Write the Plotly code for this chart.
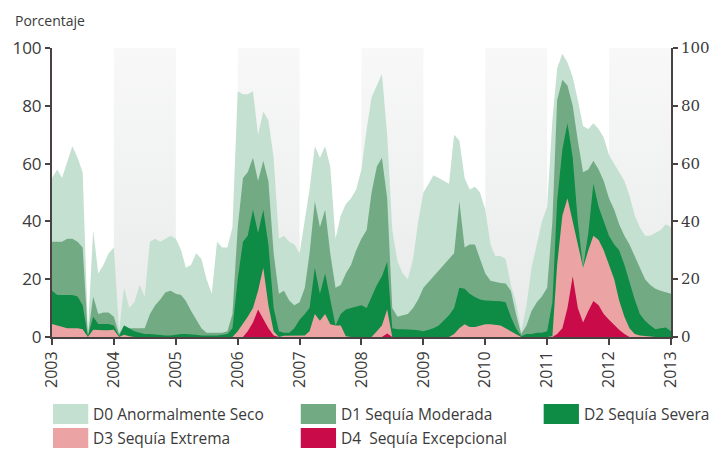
import pandas as pd
import plotly.graph_objects as go

# ---------------- data (monthly, Jan 2003 .. Jan 2013) ----------------
dates = pd.date_range("2003-01-01", "2013-01-01", freq="MS")

d0 = [55, 58, 55, 61, 66, 62, 57, 2, 37, 22, 25, 29,
      31, 2, 17, 10, 12, 18, 14, 33, 34, 33, 34, 35,
      34, 30, 24, 25, 29, 27, 20, 15, 33, 31, 31, 38,
      85, 84, 84, 85, 70, 78, 75, 62, 34, 35, 33, 32,
      29, 40, 51, 66, 62, 66, 59, 34, 42, 46, 48, 51,
      58, 72, 83, 87, 91, 70, 37, 26, 22, 20, 27, 40,
      50, 53, 56, 55, 54, 53, 70, 68, 55, 51, 52, 50,
      44, 32, 28, 28, 27, 18, 12, 2, 11, 24, 32, 40,
      45, 75, 93, 98, 95, 90, 82, 73, 72, 74, 72, 69,
      63, 60, 57, 54, 49, 42, 38, 35, 35, 36, 37, 39,
      38]

d1 = [33, 33, 33, 34, 34, 33, 31, 0.5, 14, 8, 8.5, 8.5,
      7, 1, 4, 3, 3, 3, 3, 8, 11, 13, 15.5, 16,
      15, 14.5, 12.5, 9, 6, 3, 1.5, 1.5, 1.5, 1.5, 2, 8,
      38, 55, 57, 62, 54, 61, 54, 29, 15, 16, 12.6, 11,
      12, 17, 29, 47, 38, 44, 29, 17, 18, 22, 25, 30,
      34, 37, 50, 59, 62, 48, 10, 7, 7.5, 8, 10, 13,
      17, 19, 21, 23, 25, 27, 29, 47, 31, 32, 32, 27,
      22, 19.5, 19, 18.7, 18.5, 16, 8, 1, 4, 9, 12, 14,
      17, 40, 82, 89, 87, 80, 68, 57, 58, 61, 58, 54,
      48, 44, 39, 35, 32, 28, 24, 20, 18, 16.7, 16, 15.5,
      15]

d2 = [16, 14.5, 14.5, 14.5, 14.5, 14, 11, 0.3, 7, 4.5, 4.5, 4.5,
      4, 0.3, 4, 3, 2, 1.5, 1, 1, 0.8, 0.5, 0.5, 0.5,
      0.8, 1, 1, 1, 0.8, 0.5, 0.5, 0.5, 0.5, 0.8, 1, 3,
      20, 33, 35, 44, 36, 44, 32, 10, 2, 1.5, 1.5, 3,
      6, 8, 10, 24, 15, 22, 13, 4, 8, 9.5, 10, 10.5,
      11, 10, 14, 18, 21, 26, 3, 2.7, 2.7, 2.7, 2.5, 2.3,
      2, 2.5, 3, 4, 5.6, 7.5, 10, 17, 16.7, 15, 13.8, 13,
      12.6, 12.6, 12.6, 12.4, 12, 7, 3, 0.3, 1, 1, 1.5, 1.5,
      2, 12, 47, 65, 74, 62, 40, 24, 36, 53, 45, 40,
      35, 32, 30, 25, 19, 13, 8, 5.6, 4, 2.7, 3, 3.3,
      2]

d3 = [4.5, 4, 3.3, 3, 3, 3, 2.7, 0, 2.5, 2.3, 2.3, 2.3,
      2.5, 0, 0.8, 0.3, 0, 0, 0, 0, 0, 0, 0, 0,
      0, 0, 0, 0, 0, 0, 0, 0, 0, 0, 0, 0,
      2, 4.5, 7, 10, 16, 24, 11, 2, 0, 0.4, 0.4, 0.4,
      0.3, 0.5, 2, 8, 5.6, 8, 4.4, 4, 4, 0.3, 0, 0,
      0, 0, 0, 2, 4, 9.5, 0, 0, 0, 0, 0, 0,
      0, 0, 0, 0, 0, 0, 1, 3, 4.4, 3.5, 3.5, 4,
      4.4, 4.4, 4.2, 4, 3, 2, 1, 0, 0, 0, 0, 0,
      0, 0.3, 25, 42, 48, 40, 32, 24, 30, 35, 33.6, 30,
      25, 20, 12.6, 7, 3, 1, 0.5, 0.3, 0, 0, 0, 0,
      0]

d4 = [0, 0, 0, 0, 0, 0, 0, 0, 0, 0, 0, 0,
      0, 0, 0, 0, 0, 0, 0, 0, 0, 0, 0, 0,
      0, 0, 0, 0, 0, 0, 0, 0, 0, 0, 0, 0,
      0, 0, 2, 5, 9.5, 6, 3, 0.5, 0, 0, 0, 0,
      0, 0, 0, 0, 0, 0, 0, 0, 0, 0, 0, 0,
      0, 0, 0, 0, 0, 1.2, 0, 0, 0, 0, 0, 0,
      0, 0, 0, 0, 0, 0, 0, 0, 0, 0, 0, 0,
      0, 0, 0, 0, 0, 0, 0, 0, 0, 0, 0, 0,
      0, 0, 1, 3, 10, 21, 10, 5, 9, 12.5, 11, 8,
      6, 4, 2.5, 1, 0, 0, 0, 0, 0, 0, 0, 0,
      0]

series_names = ["D0 Anormalmente Seco", "D1 Sequía Moderada", "D2 Sequía Severa",
                "D3 Sequía Extrema", "D4  Sequía Excepcional"]
series_values = [d0, d1, d2, d3, d4]
series_colors = ["#c4e0d1", "#72ab83", "#0e8b45", "#eba4a3", "#c90b4a"]

year_ticks = list(range(2003, 2014))
y_ticks = [0, 20, 40, 60, 80, 100]
shaded_years = [2004, 2006, 2008, 2010, 2012]

# ---------------- figure ----------------
fig = go.Figure()

# alternating shaded year bands (vertical gradient)
for yr in shaded_years:
    a, b = f"{yr}-01-01", f"{yr + 1}-01-01"
    fig.add_trace(go.Scatter(
        x=[a, a, b, b, a], y=[0, 100, 100, 0, 0],
        mode="lines", line=dict(width=0), fill="toself",
        fillgradient=dict(type="vertical", start=0, stop=100,
                          colorscale=[[0, "#e8eaea"], [1, "#f8f8f8"]]),
        hoverinfo="skip", showlegend=False))

for name, vals, col in zip(series_names, series_values, series_colors):
    fig.add_trace(go.Scatter(
        x=dates, y=vals, name=name, mode="lines",
        line=dict(width=0, color=col), fill="tozeroy", fillcolor=col,
        showlegend=False))

# invisible trace to activate right axis
fig.add_trace(go.Scatter(x=dates[:1], y=[0], yaxis="y2", mode="lines",
                         line=dict(width=0), hoverinfo="skip", showlegend=False))

L, R, T, B = 51, 39, 48, 114
W, H = 722, 451
pw, ph = W - L - R, H - T - B


def px(xp):
    return (xp - L) / pw


def py(yp):
    return (H - B - yp) / ph


axis_col = "#4a4242"
fig.update_layout(
    width=W, height=H,
    margin=dict(l=L, r=R, t=T, b=B),
    plot_bgcolor="white", paper_bgcolor="white",
    font=dict(family="Open Sans", color="#3a3a3a"),
    xaxis=dict(range=["2003-01-01", "2013-01-01"], type="date",
               tickvals=[f"{y}-01-01" for y in year_ticks],
               ticktext=[str(y) for y in year_ticks],
               tickangle=-90, tickfont=dict(size=16, color="#3a3a3a"),
               ticks="outside", ticklen=6, tickcolor=axis_col, tickwidth=1.5,
               showline=True, linecolor=axis_col, linewidth=2,
               showgrid=False, zeroline=False),
    yaxis=dict(range=[0, 100], tickvals=y_ticks,
               tickfont=dict(size=17, color="#3a3a3a"),
               ticks="outside", ticklen=5, tickcolor=axis_col, tickwidth=1.5,
               showline=True, linecolor=axis_col, linewidth=2,
               showgrid=False, zeroline=False),
    yaxis2=dict(range=[0, 100], tickvals=y_ticks, overlaying="y", side="right",
                tickfont=dict(size=15, family="DejaVu Serif", color="#3a3a3a"),
                ticks="outside", ticklen=5, tickcolor=axis_col, tickwidth=1.5,
                showline=True, linecolor=axis_col, linewidth=2,
                showgrid=False, zeroline=False),
)

annotations = [dict(text="Porcentaje", x=px(11), y=py(20), xref="paper", yref="paper",
                    xanchor="left", yanchor="middle", showarrow=False,
                    font=dict(size=14, color="#3a3a3a"))]
shapes = []
col_x = [52, 305, 553]
row_y = [414, 438]
for i, (name, col) in enumerate(zip(series_names, series_colors)):
    cx = col_x[i % 3]
    cy = row_y[i // 3]
    shapes.append(dict(type="rect", xref="paper", yref="paper",
                       x0=px(cx), x1=px(cx + 36), y0=py(cy + 10), y1=py(cy - 10),
                       fillcolor=col, line=dict(width=0)))
    annotations.append(dict(text=name, x=px(cx + 39), y=py(cy), xref="paper", yref="paper",
                            xanchor="left", yanchor="middle", showarrow=False,
                            font=dict(size=15.5, color="#3a3a3a")))

fig.update_layout(annotations=annotations, shapes=shapes)
fig.write_html("out.html", config={"displayModeBar": False},
               post_script="document.body.style.margin='0';document.body.style.overflow='hidden';")
